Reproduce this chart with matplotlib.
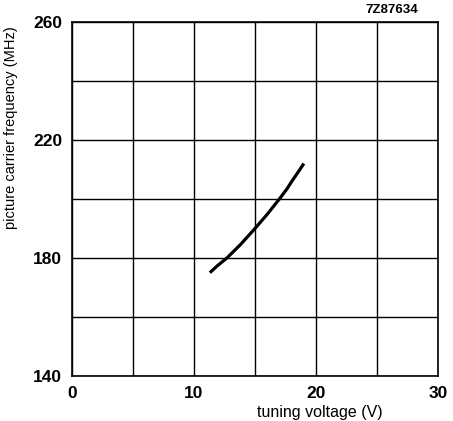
import matplotlib.pyplot as plt

# tuning characteristic
voltage = [11.3, 11.9, 12.7, 13.8, 15.0, 16.0, 17.0, 17.6, 18.1, 18.6, 19.0]
frequency = [175.0, 177.3, 180.0, 184.5, 190.0, 194.8, 200.0, 203.3, 206.5, 209.5, 212.0]

x_ticks = [0, 10, 20, 30]
y_ticks = [140, 180, 220, 260]

plt.rcParams["font.family"] = ["Liberation Sans", "DejaVu Sans"]

fig = plt.figure(figsize=(4.53, 4.21), dpi=100)
ax = fig.add_axes([0.159, 0.107, 0.808, 0.841])

ax.plot(voltage, frequency, color="black", linewidth=2.3,
        solid_capstyle="butt", solid_joinstyle="round")

ax.set_xlim(0, 30)
ax.set_ylim(140, 260)
ax.set_xticks(range(0, 31, 5))
ax.set_yticks(range(140, 261, 20))
ax.set_xticklabels([str(v) if v in x_ticks else "" for v in range(0, 31, 5)],
                   fontsize=12.5, fontweight="bold")
ax.set_yticklabels([str(v) if v in y_ticks else "" for v in range(140, 261, 20)],
                   fontsize=12.5, fontweight="bold")
ax.tick_params(length=0, pad=7)
ax.grid(color="black", linewidth=1.0)
for s in ax.spines.values():
    s.set_linewidth(1.2)

ax.set_xlabel("tuning voltage (V)", fontsize=11.5)
ax.xaxis.set_label_coords(0.678, -0.083)
ax.set_ylabel("picture carrier frequency (MHz)", fontsize=10.5)
ax.yaxis.set_label_coords(-0.148, 0.70)

fig.text(0.865, 0.962, "7Z87634", fontsize=9.5, fontweight="bold", ha="center", va="bottom")

fig.savefig("out.png", dpi=100)
